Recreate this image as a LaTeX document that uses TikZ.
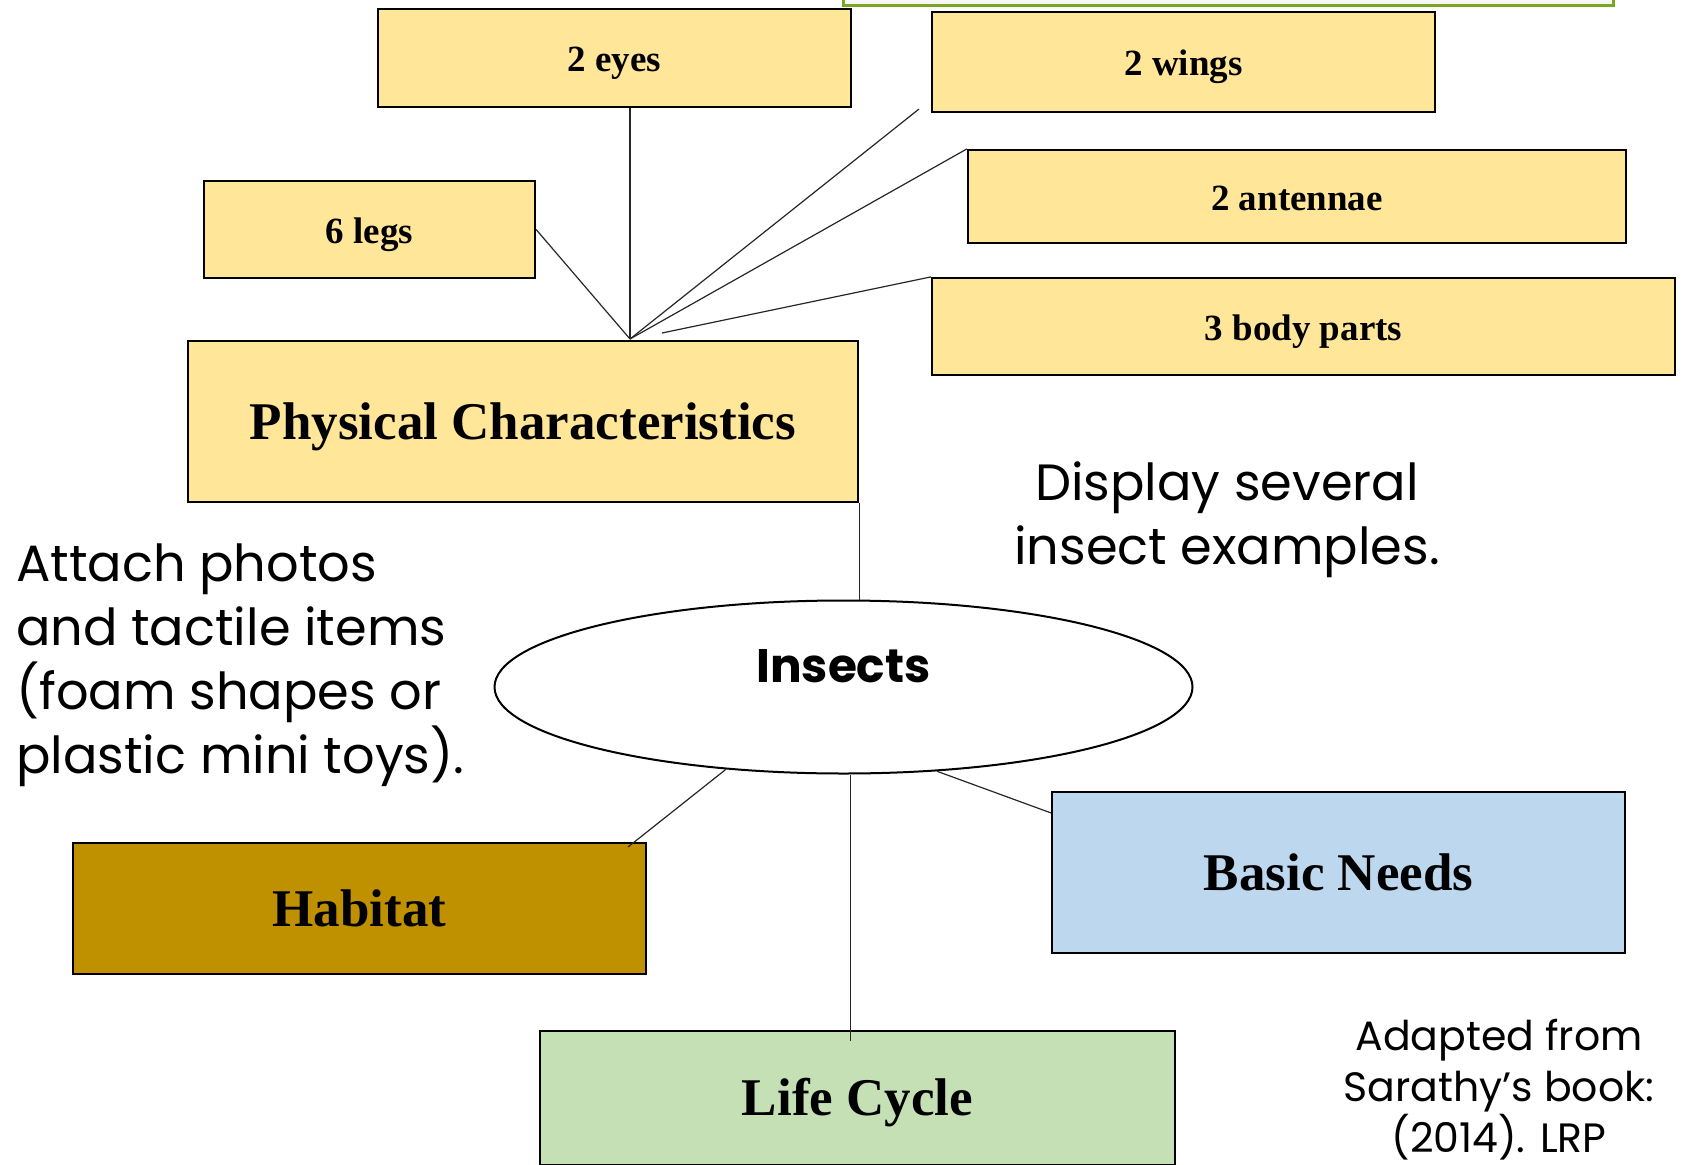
\documentclass[tikz,border=0pt]{standalone}
\usepackage{fontspec}
\setmainfont{Liberation Serif}
\setsansfont{Poppins}
\usetikzlibrary{shapes.geometric}

\definecolor{boxYellow}{HTML}{FFE699}
\definecolor{boxOchre}{HTML}{BF9000}
\definecolor{boxBlue}{HTML}{BDD7EE}
\definecolor{boxGreen}{HTML}{C5E0B4}
\definecolor{frameGreen}{RGB}{122,167,30}

\begin{document}
\begin{tikzpicture}
[x=1pt,y=-1pt,
  lineDecorate/.style={-,line width=1.2pt,black!85},%
  boxDecorate/.style={shape=rectangle,draw,line width=2.2pt,inner sep=0pt,
    text height=40pt,text depth=5pt,
    font=\bfseries\fontsize{53}{60}\selectfont},%
  smallDecorate/.style={boxDecorate,fill=boxYellow,
    text height=31pt,text depth=3.6pt,
    font=\bfseries\fontsize{37}{44}\selectfont},%
  noteDecorate/.style={inner sep=0pt,font=\sffamily\fontsize{51}{64}\selectfont}]
\useasboundingbox (0,0) rectangle (1683,1164);
%% frame at the top edge
\node (frame) at (1228,-22) [shape=rectangle,draw=frameGreen,line width=3pt,
  fill=black!3,minimum width=770pt,minimum height=56pt] {};
%% small yellow boxes
\foreach \nodename/\x/\y/\w/\h/\caption in {
  eyes/614.5/58/473/98/2 eyes, wings/1183.5/62/503/100/2 wings,
  antennae/1297/196.5/658/93/2 antennae, body/1303.5/326.5/743/97/3 body parts,
  legs/369.5/229.5/331/97/6 legs}
{
  \node (\nodename) at (\x,\y) [smallDecorate,minimum width=\w pt,minimum height=\h pt] {\caption};
}
%% main boxes
\node (physical) at (523,421.5) [boxDecorate,fill=boxYellow,minimum width=670pt,minimum height=161pt] {Physical Characteristics};
\node (habitat) at (359.5,908.5) [boxDecorate,fill=boxOchre,minimum width=573pt,minimum height=131pt] {Habitat};
\node (basic) at (1338.5,872.5) [boxDecorate,fill=boxBlue,minimum width=573pt,minimum height=161pt] {Basic Needs};
\node (life) at (857.5,1098) [boxDecorate,fill=boxGreen,minimum width=635pt,minimum height=134pt] {Life Cycle};
\node (insects) at (843.5,687) [shape=ellipse,draw,line width=2pt,fill=white,inner sep=0pt,
  minimum width=698pt,minimum height=173pt] {};
\node (insectsText) at (843.5,666) [font=\sffamily\bfseries\fontsize{47}{50}\selectfont] {Insects};
%% notes
\node (display) at (1227,520) [noteDecorate,align=center] {Display several\\insect examples.};
\node (attach) at (16,665) [noteDecorate,anchor=west,align=left] {Attach photos\\and tactile items\\(foam shapes or\\plastic mini toys).};
\node (adapted) at (1499,1090) [noteDecorate,align=center,font=\sffamily\fontsize{41}{51}\selectfont] {Adapted from\\Sarathy’s book:\\(2014). LRP};
%% edges
\coordinate (hub) at (630,339);
\coordinate (hubBody) at (662,333);
\draw[lineDecorate] (eyes.south -| hub) -- (hub);
\draw[lineDecorate] (legs.east) -- (hub);
\draw[lineDecorate] ([xshift=-12pt,yshift=4pt]wings.south west) -- (hub);
\draw[lineDecorate] (antennae.north west) -- (hub);
\draw[lineDecorate] (body.north west) -- (hubBody);
\draw[lineDecorate] (physical.south east) -- (physical.south east |- insects.north);
\draw[lineDecorate] ([xshift=-19pt,yshift=-5pt]habitat.north east) -- (insects.215);
\draw[lineDecorate] ([xshift=7pt]insects.south) -- ([xshift=7pt,yshift=-11pt]insects.south |- life.north);
\draw[lineDecorate] (insects.318) -- ([yshift=-22pt]basic.north west);
\end{tikzpicture}
\end{document}
